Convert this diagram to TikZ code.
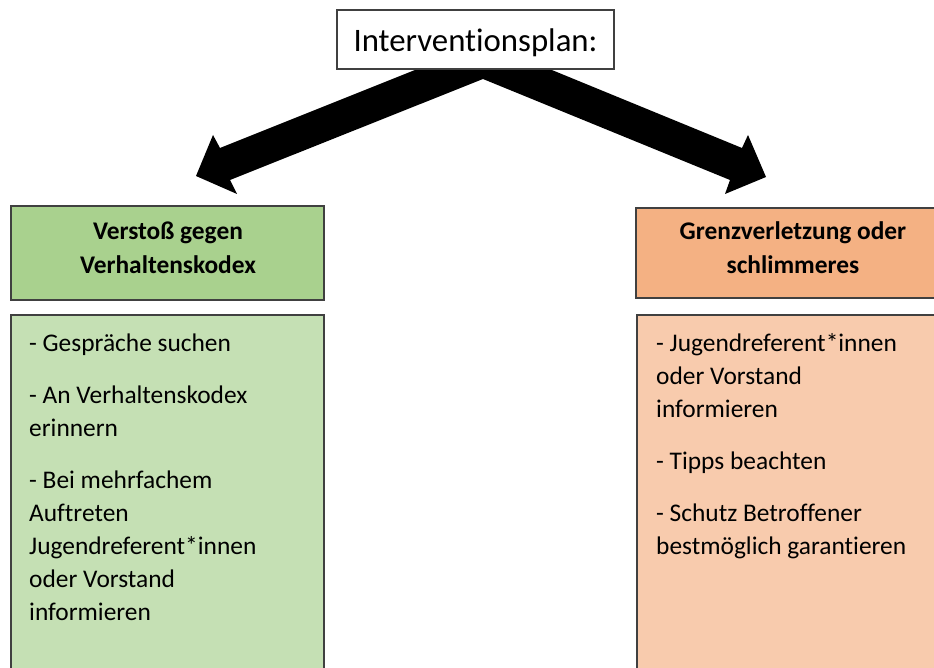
\documentclass[tikz,border=0pt]{standalone}
\usepackage{fontspec}
\setmainfont{Carlito}[Ligatures=NoCommon]
\definecolor{gheadc}{HTML}{A9D18E}
\definecolor{gbodyc}{HTML}{C5E0B4}
\definecolor{oheadc}{HTML}{F4B183}
\definecolor{obodyc}{HTML}{F8CBAD}
\definecolor{boxline}{HTML}{404040}
\tikzset{
  panel/.style={draw=boxline, line width=2pt, anchor=north west, inner sep=0pt},
  headtext/.style={font=\bfseries\fontsize{25.4}{33}\selectfont, anchor=base, inner sep=0pt, text=black},
  bodytext/.style={font=\fontsize{25.4}{33}\selectfont, anchor=base west, inner sep=0pt, text=black},
}
\begin{document}
\begin{tikzpicture}[x=1pt,y=-1pt]
\clip (0,0) rectangle (934,668);
\fill[white] (0,0) rectangle (934,668);
% arrow shape coordinates
\coordinate (lA) at (420,68);
\coordinate (lB) at (220,148);
\coordinate (lC) at (213,135);
\coordinate (lTip) at (196,176);
\coordinate (lD) at (237,194);
\coordinate (lE) at (230,180);
\coordinate (apex) at (483,79);
\coordinate (rE) at (730,180);
\coordinate (rD) at (725,194);
\coordinate (rTip) at (766,177);
\coordinate (rC) at (748,135);
\coordinate (rB) at (742,148);
\coordinate (rA) at (547,68);
\fill[black] (lA) -- (lB) -- (lC) -- (lTip) -- (lD) -- (lE) -- (apex) -- (rE) -- (rD) -- (rTip) -- (rC) -- (rB) -- (rA) -- cycle;
% top box
\node[panel, fill=white, minimum width=277pt, minimum height=59pt] (top) at (336,9) {};
\node[anchor=base, inner sep=0pt, font=\fontsize{32.8}{38}\selectfont] (toptext) at (475.5,52) {Interventionsplan:};
% headers
\node[panel, fill=gheadc, minimum width=313pt, minimum height=94pt] (ghead) at (10,205) {};
\node[headtext] (gh1) at (168,240) {Verstoß gegen};
\node[headtext] (gh2) at (168,273) {Verhaltenskodex};
\node[panel, fill=oheadc, minimum width=316pt, minimum height=90pt] (ohead) at (635,207) {};
\node[headtext] (oh1) at (793,240) {Grenzverletzung oder};
\node[headtext] (oh2) at (793,273) {schlimmeres};
% body panels
\node[panel, fill=gbodyc, minimum width=313pt, minimum height=400pt] (gbody) at (10,314) {};
\node[panel, fill=obodyc, minimum width=313pt, minimum height=400pt] (obody) at (636,314) {};
% body texts (green)
\node[bodytext] (g1) at (29,351) {- Gespräche suchen};
\node[bodytext] (g2) at (29,403) {- An Verhaltenskodex};
\node[bodytext] (g3) at (29,436) {erinnern};
\node[bodytext] (g4) at (29,488) {- Bei mehrfachem};
\node[bodytext] (g5) at (29,521) {Auftreten};
\node[bodytext] (g6) at (29,554) {Jugendreferent*innen};
\node[bodytext] (g7) at (29,587) {oder Vorstand};
\node[bodytext] (g8) at (29,620) {informieren};
% body texts (orange)
\node[bodytext] (o1) at (656,351) {- Jugendreferent*innen};
\node[bodytext] (o2) at (656,384) {oder Vorstand};
\node[bodytext] (o3) at (656,417) {informieren};
\node[bodytext] (o4) at (656,469) {- Tipps beachten};
\node[bodytext] (o5) at (656,521) {- Schutz Betroffener};
\node[bodytext] (o6) at (656,554) {bestmöglich garantieren};
\end{tikzpicture}
\end{document}
